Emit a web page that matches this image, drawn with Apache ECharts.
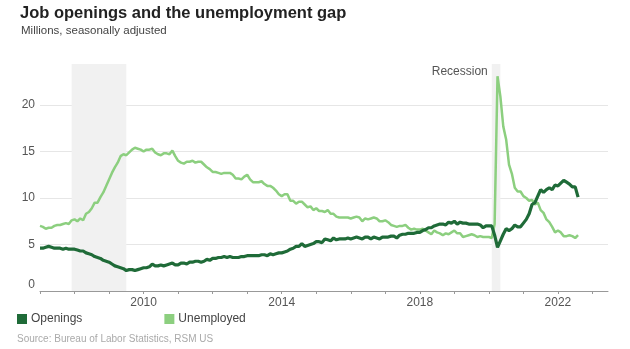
<!DOCTYPE html>
<html>
<head>
<meta charset="utf-8">
<script src="https://cdn.jsdelivr.net/npm/echarts@6/dist/echarts.min.js"></script>
<style>html,body{margin:0;padding:0;background:#fff;}#c{width:630px;height:349px;}</style>
</head>
<body>
<div id="c"></div>
<script>
// Monthly data, starting January 2007 (millions, seasonally adjusted)
const startYear = 2007;
const openings = [
  4.6,4.6,4.7,4.8,4.7,4.6,4.6,4.6,4.5,4.6,4.5,4.5,
  4.5,4.4,4.3,4.3,4.1,4.0,3.9,3.7,3.6,3.5,3.3,3.2,
  3.1,2.9,2.7,2.6,2.5,2.4,2.2,2.3,2.3,2.2,2.3,2.4,
  2.5,2.5,2.6,2.9,2.7,2.7,2.8,2.7,2.8,2.9,3.0,2.8,
  2.8,3.0,3.0,2.9,3.1,3.1,3.2,3.2,3.1,3.2,3.4,3.3,
  3.5,3.5,3.6,3.6,3.7,3.6,3.7,3.6,3.6,3.6,3.7,3.7,
  3.8,3.8,3.8,3.8,3.8,3.9,3.9,3.8,4.0,3.9,4.0,4.1,
  4.1,4.2,4.3,4.5,4.6,4.8,4.8,5.1,4.8,4.9,5.0,5.1,
  5.3,5.3,5.2,5.6,5.5,5.4,5.7,5.5,5.6,5.6,5.6,5.7,
  5.6,5.7,5.8,5.7,5.6,5.8,5.8,5.6,5.8,5.7,5.6,5.8,
  5.8,5.8,5.9,5.9,5.7,6.0,6.1,6.1,6.2,6.2,6.2,6.3,
  6.3,6.5,6.6,6.8,6.8,7.0,7.1,7.2,7.2,7.1,7.4,7.3,
  7.5,7.2,7.4,7.3,7.3,7.2,7.2,7.2,7.2,7.1,6.8,7.0,
  7.0,7.0,6.0,4.7,5.4,6.1,6.7,6.5,6.7,7.1,6.9,6.9,
  7.3,7.7,8.3,9.3,9.5,10.2,10.9,10.6,10.9,11.1,10.9,11.4,
  11.3,11.6,11.9,11.7,11.5,11.2,11.2,10.1
];
const unemployed = [
  7.0,6.9,6.7,6.8,6.8,7.0,7.1,7.1,7.2,7.3,7.2,7.6,
  7.7,7.5,7.8,7.6,8.3,8.5,8.9,9.5,9.5,10.1,10.6,11.3,
  12.0,12.7,13.3,13.8,14.5,14.7,14.6,14.9,15.2,15.4,15.3,15.2,
  15.0,15.2,15.2,15.3,14.9,14.7,14.6,14.8,14.8,14.7,15.1,14.5,
  14.0,13.8,13.7,13.9,13.9,14.0,13.8,13.9,13.9,13.6,13.3,13.1,
  12.8,12.8,12.7,12.6,12.7,12.7,12.7,12.5,12.1,12.1,12.0,12.3,
  12.5,12.0,11.7,11.7,11.7,11.8,11.5,11.3,11.3,11.1,10.8,10.4,
  10.2,10.4,10.4,9.7,9.7,9.4,9.6,9.6,9.3,9.0,9.1,8.7,
  8.9,8.6,8.6,8.5,8.7,8.3,8.3,8.0,7.9,7.9,7.9,7.9,
  7.8,7.9,8.0,7.9,7.5,7.8,7.7,7.8,7.9,7.8,7.5,7.5,
  7.6,7.4,7.1,7.0,6.9,7.0,7.0,7.1,6.8,6.6,6.7,6.6,
  6.6,6.7,6.5,6.3,6.1,6.5,6.3,6.2,6.0,6.2,6.1,6.3,
  6.5,6.2,6.2,5.8,5.9,6.0,6.1,6.0,5.8,5.9,5.8,5.8,
  5.8,5.7,7.2,23.1,20.9,17.7,16.3,13.6,12.6,11.1,10.7,10.7,
  10.2,10.0,9.7,9.8,9.3,9.5,8.7,8.4,7.7,7.4,6.9,6.3,
  6.5,6.3,5.9,5.9,6.0,5.9,5.7,6.0
];
const recessions = [[2007 + 11/12, 2009.5], [2020 + 1/12, 2020 + 4/12]];
const recessionTop = 24.4;
const yearTicks = [2007,2008,2009,2010,2011,2012,2013,2014,2015,2016,2017,2018,2019,2020,2021,2022,2023];
const yearLabels = [2010, 2014, 2018, 2022];

const toXY = arr => arr.map((v, i) => [startYear + i / 12, v]);
const cOpen = '#1f6b38';
const cUnemp = '#8ccf7f';
const font = 'Liberation Sans, Arial, sans-serif';

const chart = echarts.init(document.getElementById('c'));
chart.setOption({
  animation: false,
  backgroundColor: '#fff',
  title: [
    { text: 'Job openings and the unemployment gap', left: 15, top: 0,
      textStyle: { fontFamily: font, fontSize: 16.5, fontWeight: 'bold', color: '#222' } },
    { text: 'Millions, seasonally adjusted', left: 16, top: 20,
      textStyle: { fontFamily: font, fontSize: 11.5, fontWeight: 'normal', color: '#444' } },
    { text: 'Source: Bureau of Labor Statistics, RSM US', left: 12, top: 329,
      textStyle: { fontFamily: font, fontSize: 10, fontWeight: 'normal', color: '#aaa' } }
  ],
  legend: {
    left: 12, top: 308, itemWidth: 10, itemHeight: 10, itemGap: 82, icon: 'rect',
    textStyle: { fontFamily: font, fontSize: 12, color: '#444', padding: [0,0,0,-1] },
    data: ['Openings', 'Unemployed']
  },
  grid: { left: 40, right: 22, top: 58.5, bottom: 58 },
  xAxis: {
    type: 'value', min: 2007, max: 2023.45,
    axisLine: { lineStyle: { color: '#999' } },
    axisTick: { show: true, length: 3, customValues: yearTicks, lineStyle: { color: '#999' } },
    axisLabel: { customValues: yearLabels, formatter: v => String(v), color: '#555',
      fontFamily: font, fontSize: 12, margin: 6 },
    splitLine: { show: false }
  },
  yAxis: {
    type: 'value', min: 0, max: 25, interval: 5,
    axisLine: { show: false }, axisTick: { show: false },
    axisLabel: { color: '#555', fontFamily: font, fontSize: 12, margin: 5, showMaxLabel: false,
      formatter: v => v === 0 ? '{z|0}' : String(v),
      rich: { z: { padding: [0, 0, 12, 0], color: '#555', fontFamily: font, fontSize: 12 } } },
    splitLine: { showMaxLine: false, lineStyle: { color: '#e6e6e6' } }
  },
  series: [
    { name: 'Unemployed', type: 'line', data: toXY(unemployed), showSymbol: false,
      color: cUnemp, lineStyle: { width: 2.5, color: cUnemp }, z: 2,
      markArea: {
        silent: true,
        itemStyle: { color: '#f1f1f1' },
        data: recessions.map((r, i) => [
          { xAxis: r[0], yAxis: 0,
            label: i === 1 ? { show: true, formatter: 'Recession', position: [-4, 8],
              align: 'right', verticalAlign: 'middle', color: '#555', fontFamily: font, fontSize: 12 } : { show: false } },
          { xAxis: r[1], yAxis: recessionTop }
        ])
      }
    },
    { name: 'Openings', type: 'line', data: toXY(openings), showSymbol: false,
      color: cOpen, lineStyle: { width: 3.2, color: cOpen }, z: 3 }
  ]
});
</script>
</body>
</html>
